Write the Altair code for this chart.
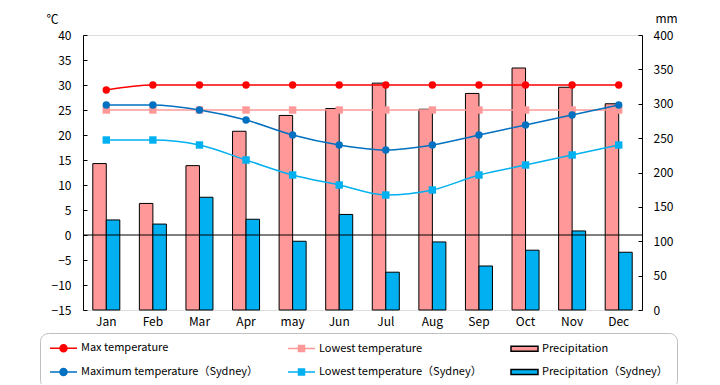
import altair as alt
import pandas as pd

months = ["Jan", "Feb", "Mar", "Apr", "may", "Jun", "Jul", "Aug", "Sep", "Oct", "Nov", "Dec"]

S_MAX = "Max temperature"
S_LOW = "Lowest temperature"
S_PR = "Precipitation"
S_MAXS = "Maximum temperature（Sydney）"
S_LOWS = "Lowest temperature（Sydney）"
S_PRS = "Precipitation（Sydney）"

max_temp = [29, 30, 30, 30, 30, 30, 30, 30, 30, 30, 30, 30]
low_temp = [25, 25, 25, 25, 25, 25, 25, 25, 25, 25, 25, 25]
max_syd = [26, 26, 25, 23, 20, 18, 17, 18, 20, 22, 24, 26]
low_syd = [19, 19, 18, 15, 12, 10, 8, 9, 12, 14, 16, 18]
precip = [213, 155, 210, 260, 283, 293, 330, 292, 315, 352, 324, 300]
precip_syd = [131, 125, 164, 132, 100, 139, 55, 99, 64, 87, 115, 84]

# legend entries, listed column by column (2 rows x 3 columns)
legend_order = [S_MAX, S_MAXS, S_LOW, S_LOWS, S_PR, S_PRS]
fill_colors = ["#FF0000", "#0070C0", "#FF9999", "#00B0F0", "#FF9999", "#00B0F0"]
stroke_colors = ["#FF0000", "#0070C0", "#FF9999", "#00B0F0", "#000000", "#000000"]

temp_series = [S_LOW, S_MAX, S_LOWS, S_MAXS]
temp_colors = ["#FF9999", "#FF0000", "#00B0F0", "#0070C0"]
temp_shapes = ["square", "circle", "square", "circle"]
temp_values = {S_MAX: max_temp, S_LOW: low_temp, S_MAXS: max_syd, S_LOWS: low_syd}

temp_rows = []
for s in temp_series:
    for m, v in zip(months, temp_values[s]):
        temp_rows.append({"month": m, "series": s, "temp": v})
temp_df = pd.DataFrame(temp_rows)

bar_rows = []
for s, vals in [(S_PR, precip), (S_PRS, precip_syd)]:
    for m, v in zip(months, vals):
        bar_rows.append({"month": m, "series": s, "mm": v})
bar_df = pd.DataFrame(bar_rows)

FONT = "Noto Sans CJK JP"

x_enc = alt.X(
    "month:N", sort=months,
    scale=alt.Scale(paddingInner=0.42, paddingOuter=0.21),
    axis=alt.Axis(title=None, domain=False, ticks=False, grid=False, labelAngle=0,
                  labelPadding=6, labelFontSize=12, labelColor="black", labelFont=FONT),
)

temp_axis = alt.Axis(
    orient="left", values=list(range(-15, 41, 5)), title="℃", titleAngle=0,
    titleX=-31, titleY=-16, titleAlign="center", titleBaseline="middle",
    titleFontSize=12, titleFontWeight="normal", titleColor="black", titleFont=FONT,
    ticks=False, tickSize=0, labelPadding=12, labelFontSize=12, labelColor="black", labelFont=FONT,
    domainColor="black", domainWidth=1,
    grid=True, gridColor="black", gridWidth=1, gridOpacity=1, gridDash=[4, 2000],
)
y_temp = alt.Y("temp:Q", scale=alt.Scale(domain=[-15, 40], nice=False, zero=False), axis=temp_axis)

mm_axis = alt.Axis(
    orient="right", values=list(range(0, 401, 50)), title="mm", titleAngle=0,
    titleX=24, titleY=-17, titleAlign="center", titleBaseline="middle",
    titleFontSize=12, titleFontWeight="normal", titleColor="black", titleFont=FONT,
    ticks=False, tickSize=0, labelPadding=11, labelFontSize=12, labelColor="black", labelFont=FONT,
    domainColor="black", domainWidth=1,
    grid=True, gridColor="black", gridWidth=1, gridOpacity=1, gridDash=[4, 2000],
)

bars = alt.Chart(bar_df).mark_bar(stroke="black", strokeWidth=1).encode(
    x=x_enc,
    xOffset=alt.XOffset("series:N", sort=[S_PR, S_PRS],
                        scale=alt.Scale(paddingInner=0, paddingOuter=0)),
    y=alt.Y("mm:Q", scale=alt.Scale(domain=[0, 400], nice=False), axis=mm_axis),
    color=alt.Color("series:N", scale=alt.Scale(domain=[S_PR, S_PRS], range=["#FF9999", "#00B0F0"]),
                    legend=None),
)

zero_rule = alt.Chart(pd.DataFrame({"temp": [0]})).mark_rule(color="black", strokeWidth=1).encode(
    y=y_temp
)

temp_color = alt.Color("series:N", scale=alt.Scale(domain=temp_series, range=temp_colors), legend=None)

lines = alt.Chart(temp_df).mark_line(interpolate="monotone", strokeWidth=1.5).encode(
    x=x_enc, y=y_temp, color=temp_color, detail="series:N"
)
points = alt.Chart(temp_df).mark_point(filled=True, size=55, opacity=1).encode(
    x=x_enc, y=y_temp, color=temp_color,
    shape=alt.Shape("series:N", scale=alt.Scale(domain=temp_series, range=temp_shapes), legend=None),
)

temp_group = alt.layer(zero_rule, lines, points)

# legend symbol paths (unit = sqrt(symbolSize)/2 px)
P_CIRCLE = "M-1,0H4.4M1,0A0.7,0.7,0,1,1,2.4,0A0.7,0.7,0,1,1,1,0Z"
P_SQUARE = "M-1,0H4.4M1.1,-0.6H2.3V0.6H1.1Z"
P_RECT = "M-1,-0.5H4.4V0.5H-1Z"
legend_paths = [P_CIRCLE, P_CIRCLE, P_SQUARE, P_SQUARE, P_RECT, P_RECT]

fill_expr = "[" + ",".join("'%s'" % c for c in fill_colors) + "][datum.index]"
stroke_expr = "[" + ",".join("'%s'" % c for c in stroke_colors) + "][datum.index]"

leg = alt.Legend(
    title=None, orient="none", legendX=-43, legendY=298, columns=3,
    columnPadding=26, rowPadding=10, padding=9,
    strokeColor="#C0C0C0", cornerRadius=8, fillColor="white",
    symbolSize=100, symbolStrokeWidth=1.5, labelOffset=20,
    symbolFillColor=alt.ExprRef(expr=fill_expr),
    symbolStrokeColor=alt.ExprRef(expr=stroke_expr),
    symbolOpacity=1,
    labelFontSize=11, labelColor="black", labelFont=FONT, labelLimit=300,
)

legend_df = pd.DataFrame({"series": legend_order})
legend_layer = alt.Chart(legend_df).mark_point(filled=True).encode(
    color=alt.Color("series:N", sort=legend_order,
                    scale=alt.Scale(domain=legend_order, range=fill_colors), legend=leg),
    shape=alt.Shape("series:N", sort=legend_order,
                    scale=alt.Scale(domain=legend_order, range=legend_paths), legend=leg),
).transform_filter("false")

chart = alt.layer(bars, temp_group, legend_layer).resolve_scale(
    y="independent", color="independent", shape="independent"
).properties(
    width=559, height=275,
    autosize=alt.AutoSizeParams(type="none"),
    padding={"left": 75, "top": 27, "right": 60, "bottom": 74},
).configure_view(
    fill="#FFFFCC", stroke="transparent"
).configure(font=FONT)

chart.save("out.html", embed_options={"renderer": "svg", "actions": False})
